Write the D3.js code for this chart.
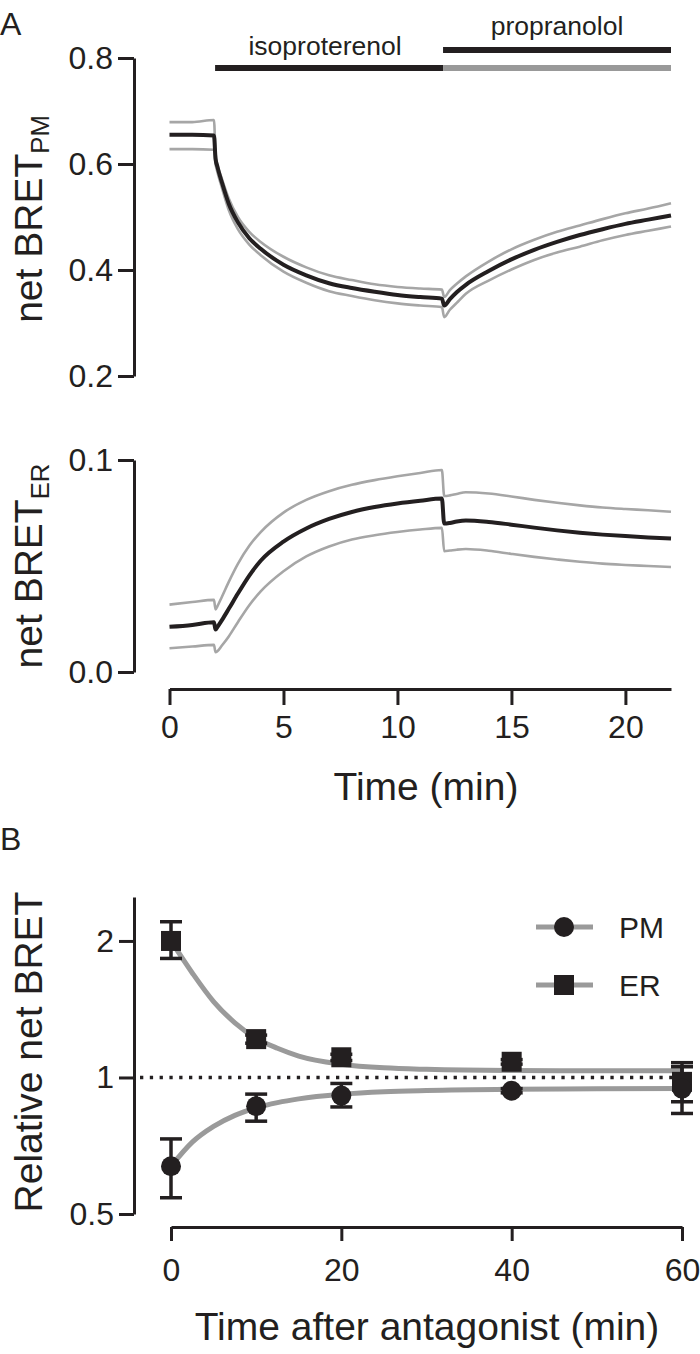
<!DOCTYPE html>
<html>
<head>
<meta charset="utf-8">
<script src="https://cdn.jsdelivr.net/npm/d3@7"></script>
<style>
  body { margin: 0; background: #fff; }
  text { font-family: "Liberation Sans", Arial, Helvetica, sans-serif; fill: #231f20; }
</style>
</head>
<body>
<svg id="chart" width="700" height="1354"></svg>
<script>
// ---- panel A: kinetic traces (time in min) ----
const timeA = [0, 1, 1.95, 2.02, 2.1, 2.3, 2.6, 3, 3.5, 4, 5, 6, 7, 8, 9, 10, 11, 11.95,
    12.05, 12.3, 12.6, 13, 14, 15, 16, 17, 18, 19, 20, 21, 22];

const pmMean = [0.655, 0.655, 0.654, 0.61, 0.595, 0.565, 0.525, 0.49, 0.46, 0.44, 0.41, 0.39, 0.375, 0.366, 0.359, 0.353, 0.349, 0.346,
    0.333, 0.345, 0.358, 0.372, 0.398, 0.42, 0.438, 0.453, 0.466, 0.477, 0.487, 0.495, 0.503];
const pmUpper = [0.679, 0.679, 0.683, 0.62, 0.60, 0.572, 0.535, 0.50, 0.472, 0.453, 0.425, 0.405, 0.39, 0.381, 0.373, 0.368, 0.365, 0.363,
    0.349, 0.362, 0.374, 0.388, 0.416, 0.439, 0.457, 0.472, 0.484, 0.496, 0.507, 0.516, 0.526];
const pmLower = [0.628, 0.628, 0.627, 0.60, 0.585, 0.555, 0.513, 0.477, 0.448, 0.428, 0.397, 0.376, 0.36, 0.351, 0.343, 0.337, 0.333, 0.330,
    0.311, 0.325, 0.338, 0.355, 0.38, 0.401, 0.419, 0.433, 0.444, 0.456, 0.466, 0.474, 0.482];

const erMean = [0.0213, 0.0222, 0.0235, 0.0200, 0.0212, 0.0245, 0.0298, 0.0370, 0.0455, 0.0525, 0.0615, 0.0677, 0.0722, 0.0755, 0.0778, 0.0795, 0.0808, 0.0818,
    0.0700, 0.0703, 0.0710, 0.0715, 0.0708, 0.0695, 0.0681, 0.0668, 0.0657, 0.0648, 0.0641, 0.0635, 0.0630];
const erUpper = [0.0318, 0.033, 0.034, 0.0295, 0.0310, 0.0355, 0.0425, 0.0510, 0.0595, 0.0660, 0.0752, 0.0812, 0.0853, 0.0883, 0.0905, 0.0923, 0.0939, 0.0953,
    0.0830, 0.0833, 0.0840, 0.0848, 0.0842, 0.0828, 0.0812, 0.0798, 0.0786, 0.0776, 0.0769, 0.0763, 0.0756];
const erLower = [0.0112, 0.012, 0.0128, 0.0093, 0.0098, 0.0125, 0.0168, 0.0235, 0.0315, 0.0380, 0.0475, 0.0545, 0.0592, 0.0625, 0.0645, 0.0660, 0.0672, 0.0680,
    0.0570, 0.0573, 0.0577, 0.0580, 0.0572, 0.0557, 0.0543, 0.0531, 0.0520, 0.0511, 0.0505, 0.0500, 0.0495];

const treatments = [
    {label: 'isoproterenol', start: 2, end: 12},
    {label: 'propranolol', start: 12, end: 22}
];

const pmTicks = [0.2, 0.4, 0.6, 0.8];
const erTicks = [0, 0.1];
const timeTicks = [0, 5, 10, 15, 20];

// ---- panel B: relative net BRET after antagonist ----
const antagonistTime = [0, 10, 20, 40, 60];
const pmRel = [0.637, 0.864, 0.912, 0.935, 0.945];
const pmRelLow = [0.543, 0.801, 0.861, 0.925, 0.833];
const pmRelHigh = [0.732, 0.919, 0.970, 0.945, 1.056];
const erRel = [2.0, 1.215, 1.108, 1.083, 0.978];
const erRelLow = [1.83, 1.19, 1.09, 1.07, 0.884];
const erRelHigh = [2.205, 1.24, 1.125, 1.095, 1.078];

const fitTime = [0, 2.5, 5, 7.5, 10, 12.5, 15, 20, 25, 30, 40, 50, 60];
const erFit = [2.0, 1.70, 1.47, 1.32, 1.22, 1.16, 1.115, 1.07, 1.05, 1.042, 1.036, 1.035, 1.035];
const pmFit = [0.637, 0.72, 0.78, 0.825, 0.857, 0.88, 0.897, 0.918, 0.93, 0.936, 0.942, 0.944, 0.945];

const relTicks = [0.5, 1, 2];
const antagonistTicks = [0, 20, 40, 60];
const baselineRel = 1;

const BLACK = '#231f20';
const GREY = '#a6a6a6';
const FIT_GREY = '#9a9a9a';

const svg = d3.select('#chart');

function styleAxis(g, fontSize) {
    g.select('.domain').attr('stroke', BLACK).attr('stroke-width', 3);
    g.selectAll('.tick line').attr('stroke', BLACK).attr('stroke-width', 3);
    g.selectAll('.tick text').attr('fill', BLACK).style('font-size', fontSize + 'px');
}

// ---------- panel A ----------
const xA = d3.scaleLinear().domain([0, 22]).range([169.5, 671]);
const yPM = d3.scaleLinear().domain([0.2, 0.8]).range([376, 58]);
const yER = d3.scaleLinear().domain([0, 0.1]).range([672, 460]);

svg.append('text').attr('x', 0).attr('y', 35).style('font-size', '32px').text('A');

const drawTrace = (values, y, color, width) => {
    const line = d3.line()
        .x((d, i) => xA(timeA[i]))
        .y((d) => y(d))
        .curve(d3.curveMonotoneX);
    svg.append('path')
        .datum(values)
        .attr('d', line)
        .attr('fill', 'none')
        .attr('stroke', color)
        .attr('stroke-width', width)
        .attr('stroke-linejoin', 'round');
};

drawTrace(pmUpper, yPM, GREY, 2.6);
drawTrace(pmLower, yPM, GREY, 2.6);
drawTrace(pmMean, yPM, BLACK, 4);
drawTrace(erUpper, yER, GREY, 2.6);
drawTrace(erLower, yER, GREY, 2.6);
drawTrace(erMean, yER, BLACK, 4);

// treatment bars
const iso = treatments[0], prop = treatments[1];
svg.append('rect').attr('x', xA(iso.start)).attr('y', 65).attr('width', xA(iso.end) - xA(iso.start)).attr('height', 6).attr('fill', BLACK);
svg.append('rect').attr('x', xA(prop.start)).attr('y', 65).attr('width', xA(prop.end) - xA(prop.start)).attr('height', 6).attr('fill', '#999');
svg.append('rect').attr('x', xA(prop.start)).attr('y', 47).attr('width', xA(prop.end) - xA(prop.start)).attr('height', 6).attr('fill', BLACK);
svg.append('text').attr('x', xA((iso.start + iso.end) / 2) - 4).attr('y', 55)
    .attr('text-anchor', 'middle').style('font-size', '26.5px').text(iso.label);
svg.append('text').attr('x', xA((prop.start + prop.end) / 2)).attr('y', 35)
    .attr('text-anchor', 'middle').style('font-size', '26.5px').text(prop.label);

svg.append('g').attr('transform', 'translate(134,0)')
    .call(d3.axisLeft(yPM).tickValues(pmTicks).tickFormat(d3.format('.1f')).tickSize(16).tickPadding(5).tickSizeOuter(0))
    .call((g) => styleAxis(g, 32));
svg.append('g').attr('transform', 'translate(134,0)')
    .call(d3.axisLeft(yER).tickValues(erTicks).tickFormat(d3.format('.1f')).tickSize(16).tickPadding(5).tickSizeOuter(0))
    .call((g) => styleAxis(g, 32));
svg.append('g').attr('transform', 'translate(0,689)')
    .call(d3.axisBottom(xA).tickValues(timeTicks).tickSize(16).tickPadding(10).tickSizeOuter(0))
    .call((g) => styleAxis(g, 32));

const yTitle = (cx, cy, main, sub, size) => {
    const t = svg.append('text')
        .attr('transform', `translate(${cx},${cy}) rotate(-90)`)
        .attr('text-anchor', 'middle')
        .style('font-size', size + 'px');
    t.append('tspan').text(main);
    if (sub) t.append('tspan').attr('dy', 7).style('font-size', (size * 0.66) + 'px').text(sub);
};
yTitle(42, 219, 'net BRET', 'PM', 39);
yTitle(42, 566, 'net BRET', 'ER', 39);
svg.append('text').attr('x', 426).attr('y', 800).attr('text-anchor', 'middle')
    .style('font-size', '39px').text('Time (min)');

// ---------- panel B ----------
const xB = d3.scaleLinear().domain([0, 60]).range([171, 682]);
const yB = d3.scaleLog().base(2).domain([0.5, 2.5]).range([1214, 897]);

svg.append('text').attr('x', 0).attr('y', 850).style('font-size', '32px').text('B');

svg.append('line')
    .attr('x1', 140).attr('x2', xB(60))
    .attr('y1', yB(baselineRel)).attr('y2', yB(baselineRel))
    .attr('stroke', BLACK).attr('stroke-width', 3.3).attr('stroke-dasharray', '3.3,6.5');

const fitLine = (values) => d3.line()
    .x((d, i) => xB(fitTime[i]))
    .y((d) => yB(d))
    .curve(d3.curveMonotoneX)(values);
svg.append('path').attr('d', fitLine(erFit)).attr('fill', 'none').attr('stroke', FIT_GREY).attr('stroke-width', 5);
svg.append('path').attr('d', fitLine(pmFit)).attr('fill', 'none').attr('stroke', FIT_GREY).attr('stroke-width', 5);

const errorBars = (low, high) => {
    antagonistTime.forEach((t, i) => {
        const g = svg.append('g').attr('stroke', BLACK).attr('stroke-width', 3.5);
        g.append('line').attr('x1', xB(t)).attr('x2', xB(t)).attr('y1', yB(low[i])).attr('y2', yB(high[i]));
        [low[i], high[i]].forEach((v) => {
            g.append('line').attr('x1', xB(t) - 11).attr('x2', xB(t) + 11).attr('y1', yB(v)).attr('y2', yB(v));
        });
    });
};
errorBars(erRelLow, erRelHigh);
errorBars(pmRelLow, pmRelHigh);

svg.append('g').selectAll('rect').data(erRel).join('rect')
    .attr('x', (d, i) => xB(antagonistTime[i]) - 10)
    .attr('y', (d) => yB(d) - 10)
    .attr('width', 20).attr('height', 20).attr('fill', BLACK);
svg.append('g').selectAll('circle').data(pmRel).join('circle')
    .attr('cx', (d, i) => xB(antagonistTime[i]))
    .attr('cy', (d) => yB(d))
    .attr('r', 10).attr('fill', BLACK);

svg.append('g').attr('transform', 'translate(134,0)')
    .call(d3.axisLeft(yB).tickValues(relTicks).tickFormat(d3.format('')).tickSize(15).tickPadding(5).tickSizeOuter(0))
    .call((g) => styleAxis(g, 32));
svg.append('g').attr('transform', 'translate(0,1227)')
    .call(d3.axisBottom(xB).tickValues(antagonistTicks).tickSize(14).tickPadding(17).tickSizeOuter(0))
    .call((g) => styleAxis(g, 32));

yTitle(42, 1052, 'Relative net BRET', null, 39);
svg.append('text').attr('x', 427).attr('y', 1340).attr('text-anchor', 'middle')
    .style('font-size', '39px').text('Time after antagonist (min)');

// legend
const legend = [{label: 'PM', shape: 'circle', y: 927}, {label: 'ER', shape: 'square', y: 985}];
legend.forEach((item) => {
    svg.append('line').attr('x1', 536).attr('x2', 593).attr('y1', item.y).attr('y2', item.y)
        .attr('stroke', FIT_GREY).attr('stroke-width', 5);
    if (item.shape === 'circle') {
        svg.append('circle').attr('cx', 564).attr('cy', item.y).attr('r', 10).attr('fill', BLACK);
    } else {
        svg.append('rect').attr('x', 554).attr('y', item.y - 10).attr('width', 20).attr('height', 20).attr('fill', BLACK);
    }
    svg.append('text').attr('x', 619).attr('y', item.y).attr('dy', '0.35em')
        .style('font-size', '30px').text(item.label);
});
</script>
</body>
</html>
